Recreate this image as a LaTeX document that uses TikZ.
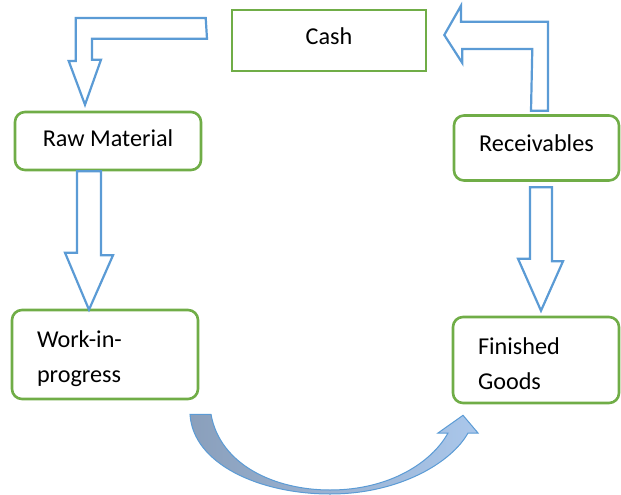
\documentclass[tikz,border=0pt]{standalone}
\usepackage{fontspec}
\setmainfont{Carlito}
\usepackage{tikz}
\usetikzlibrary{calc, positioning}
\definecolor{grn}{HTML}{70AD47}
\definecolor{blu}{HTML}{5B9BD5}
\definecolor{shl}{HTML}{8A9FBB}
\definecolor{shr}{HTML}{AAC7EB}
\tikzset{
  box/.style  ={rectangle, draw=grn, line width=2.6pt, align=center, inner sep=0pt, font=\fontsize{24.2}{35}\selectfont},
  rbox/.style ={box, rounded corners=10pt},
  tbox/.style ={rbox, align=left, inner xsep=25pt, inner ysep=0pt},
  barrow/.style ={draw=blu, line width=2.2pt, fill=white, line join=miter},
  carrow/.style ={draw=blu, line width=1pt, left color=shl, right color=shr},
}
\begin{document}
\begin{tikzpicture}[x=1pt, y=-1pt]
  \useasboundingbox (0,0) rectangle (621,495);
  \node[box, minimum width=194, minimum height=61, text depth=8pt] (cash) at (329,40.5) {Cash};
  \node[rbox, minimum width=186, minimum height=58, text depth=6pt] (raw) at (108,141) {Raw Material};
  \node[rbox, minimum width=165, minimum height=65, text depth=9pt] (rec) at (536.5,148) {Receivables};
  \node[tbox, text width=136, minimum height=89, text height=26pt] (wip) at (105,354.5) {Work-in-\\progress};
  \node[tbox, text width=116, minimum height=86, text height=24pt] (fin) at (536,360) {Finished\\Goods};
  % block arrows
  \draw[barrow] ($(cash.west)+(-25,-22.5)$) -- ++(-130,0) -- ++(0,43) -- ++(-7,0)
    -- ($(raw.north)+(-23,-6)$) -- ++(16,-45) -- ++(-9,0) -- ++(0,-21) -- ++(115,0) -- cycle;
  \draw[barrow] ($(raw.south)+(-31,0)$) -- ++(24,0) -- ++(0,84) -- ++(12,0)
    -- ($(wip.north)+(-16,1)$) -- ++(-24,-57) -- ++(12,0) -- cycle;
  \draw[barrow] ($(rec.south)+(-6.5,5.5)$) -- ++(22,0) -- ++(0,74) -- ++(11,0)
    -- ($(fin.north)+(5,-5)$) -- ++(-23,-52) -- ++(12,0) -- cycle;
  \draw[barrow] ($(rec.north)+(-5.5,-3.5)$) -- ++(17,0) -- ++(0,-89) -- ++(-87,0) -- ++(0,-16)
    -- ($(cash.east)+(17,-5.5)$) -- ++(18,28) -- ++(0,-14) -- ++(70,0) -- cycle;
  % curved arrow
  \coordinate (cs) at ($(wip.south)+(85,14)$);
  \coordinate (ct) at ($(fin.south)+(-73,11)$);
  \draw[carrow] (cs) .. controls +(3,50) and (260,494) .. (330,494)
    .. controls (400,494) and (452,462) .. (468,433) -- (478,433) -- (ct) -- (438,433) -- (448,433)
    .. controls (432,462) and (390,490) .. (330,490)
    .. controls (275,490) and (220,465) .. ($(cs)+(21,0)$) -- cycle;
\end{tikzpicture}
\end{document}
